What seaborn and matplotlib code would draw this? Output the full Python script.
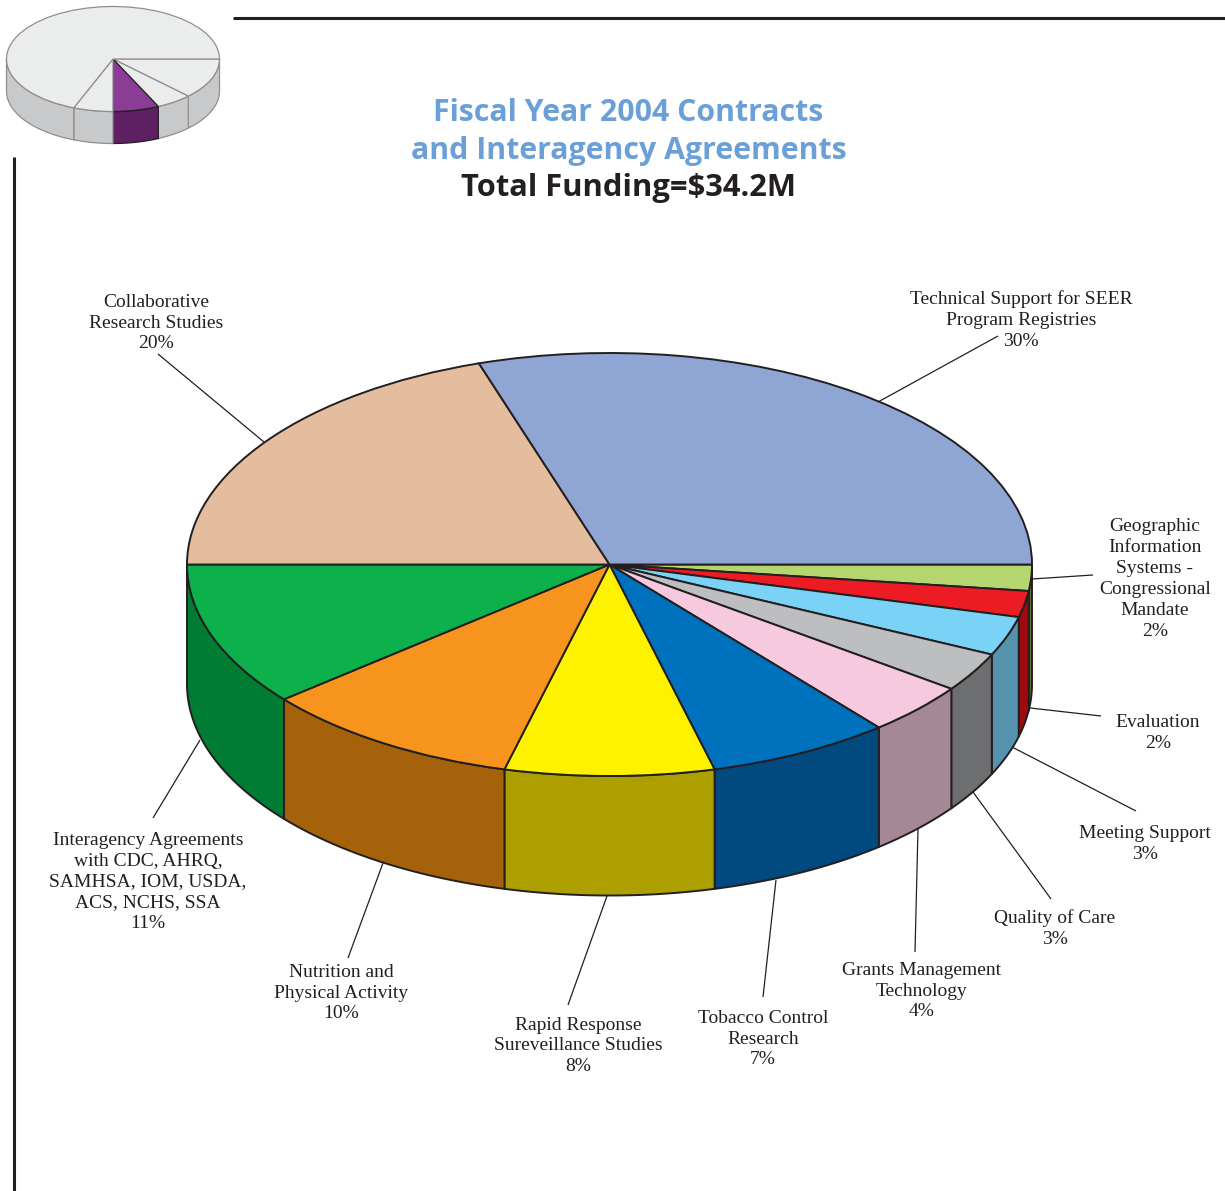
import numpy as np
import matplotlib
matplotlib.use("Agg")
import matplotlib.pyplot as plt
import seaborn as sns

sns.set_style("white")

# Funding shares, clockwise from the 3 o'clock position
categories = [
    "Geographic\nInformation\nSystems -\nCongressional\nMandate",
    "Evaluation",
    "Meeting Support",
    "Quality of Care",
    "Grants Management\nTechnology",
    "Tobacco Control\nResearch",
    "Rapid Response\nSureveillance Studies",
    "Nutrition and\nPhysical Activity",
    "Interagency Agreements\nwith CDC, AHRQ,\nSAMHSA, IOM, USDA,\nACS, NCHS, SSA",
    "Collaborative\nResearch Studies",
    "Technical Support for SEER\nProgram Registries",
]
shares = [2, 2, 3, 3, 4, 7, 8, 10, 11, 20, 30]
top_colors = ["#b5d56f", "#ed1c24", "#7ad3f7", "#bcbec0", "#f7c9df", "#0071bc",
              "#fff200", "#f7941d", "#0db14b", "#e4bd9e", "#8fa5d4"]
side_colors = ["#5f6e2f", "#9e0b0f", "#5492ae", "#6d6e70", "#a68795", "#004a80",
               "#ad9f00", "#a6620a", "#007c34", "#a98c75", "#6a7a9d"]

# Label anchors and leader lines, in pixels
label_x = [1155, 1158, 1145, 1055, 922, 763, 578, 341, 148, 156, 1021]
label_y = [579, 733, 844, 929, 991, 1039, 1046, 993, 882, 323, 320]
leader_start = [(1093, 575), (1101, 716), (1136, 811), (1051, 899), (915, 952),
                (763, 997), (568, 1005), (348, 958), (153, 818), (158, 354), (998, 336)]
leader_end = [(1032, 579), (1030, 708), (1012, 747), (973, 792), (918, 829),
              (776, 880), (607, 896), (383, 863), (200, 740), (264, 442), (878, 402)]

# Locator pie in the page corner
locator_shares = [12.5, 5.5, 7, 6, 69]
locator_top = ["#ebecec", "#ebecec", "#8b3d96", "#ebecec", "#ebecec"]
locator_side = ["#c8c9cb", "#c8c9cb", "#5e1f63", "#c8c9cb", "#c8c9cb"]
locator_edge = ["#8f8f8f", "#8f8f8f", "#231f20", "#8f8f8f", "#8f8f8f"]

INK = "#231f20"
W, H = 1225, 1191
fig = plt.figure(figsize=(W / 100, H / 100), dpi=100)
page = fig.add_axes([0, 0, 1, 1])
page.set_xlim(0, W)
page.set_ylim(H, 0)
page.axis("off")


def draw_walls(values, colors, cx, cy, rx, ry, depth, edges, lw):
    """Draw the visible outer wall of each slice below the top face."""
    bounds = np.cumsum([0] + list(values)) / np.sum(values) * 2 * np.pi
    for a, b, color, edge in zip(bounds[:-1], bounds[1:], colors, edges):
        a, b = min(a, np.pi), min(b, np.pi)
        if b <= a:
            continue
        t = np.linspace(a, b, 80)
        x = cx + rx * np.cos(t)
        y = cy + ry * np.sin(t)
        page.fill(np.r_[x, x[::-1]], np.r_[y, y[::-1] + depth],
                  facecolor=color, edgecolor=edge, linewidth=lw, joinstyle="round")


def draw_top(values, colors, cx, cy, rx, ry, edges, lw):
    """Draw the top face as a pie stretched to an ellipse."""
    ax = fig.add_axes([(cx - rx) / W, 1 - (cy + ry) / H, 2 * rx / W, 2 * ry / H])
    ax.patch.set_alpha(0)
    wedges, _ = ax.pie(values, colors=sns.color_palette(colors), startangle=0,
                       counterclock=False, radius=1, center=(0, 0),
                       wedgeprops=dict(linewidth=lw, clip_on=False))
    for wedge, edge in zip(wedges, edges):
        wedge.set_edgecolor(edge)
    ax.set_aspect("auto")
    ax.set_xlim(-1, 1)
    ax.set_ylim(-1, 1)
    return ax


# Main pie
ink_edges = [INK] * len(shares)
draw_walls(shares, sns.color_palette(side_colors), 609.5, 564.5, 422.5, 211.5, 119.5, ink_edges, 1.4)

for sx, ex in zip(leader_start, leader_end):
    page.plot([sx[0], ex[0]], [sx[1], ex[1]], color=INK, lw=0.9, solid_capstyle="butt")

draw_top(shares, top_colors, 609.5, 564.5, 422.5, 211.5, ink_edges, 1.4)

for name, share, x, y in zip(categories, shares, label_x, label_y):
    page.text(x, y, f"{name}\n{share}%", ha="center", va="center", multialignment="center",
              family="Liberation Serif", fontsize=14, color=INK, linespacing=1.3)

# Locator pie
draw_walls(locator_shares, locator_side, 113, 59, 106.5, 52.5, 32, locator_edge, 0.9)
draw_top(locator_shares, locator_top, 113, 59, 106.5, 52.5, locator_edge, 0.9)

# Page rules
page.plot([233, W], [18, 18], color=INK, lw=2.2, solid_capstyle="butt")
page.plot([14, 14], [157, H], color=INK, lw=2.2, solid_capstyle="butt")

# Heading
BLUE = "#6a9fd8"
page.text(628.5, 113, "Fiscal Year 2004 Contracts", ha="center", va="center",
          family="Open Sans", fontweight="bold", fontsize=21.8, color=BLUE)
page.text(628.5, 151, "and Interagency Agreements", ha="center", va="center",
          family="Open Sans", fontweight="bold", fontsize=21.8, color=BLUE)
page.text(628.5, 188, "Total Funding=$34.2M", ha="center", va="center",
          family="Open Sans", fontweight="bold", fontsize=22.2, color=INK)

fig.savefig("out.png", dpi=100)
